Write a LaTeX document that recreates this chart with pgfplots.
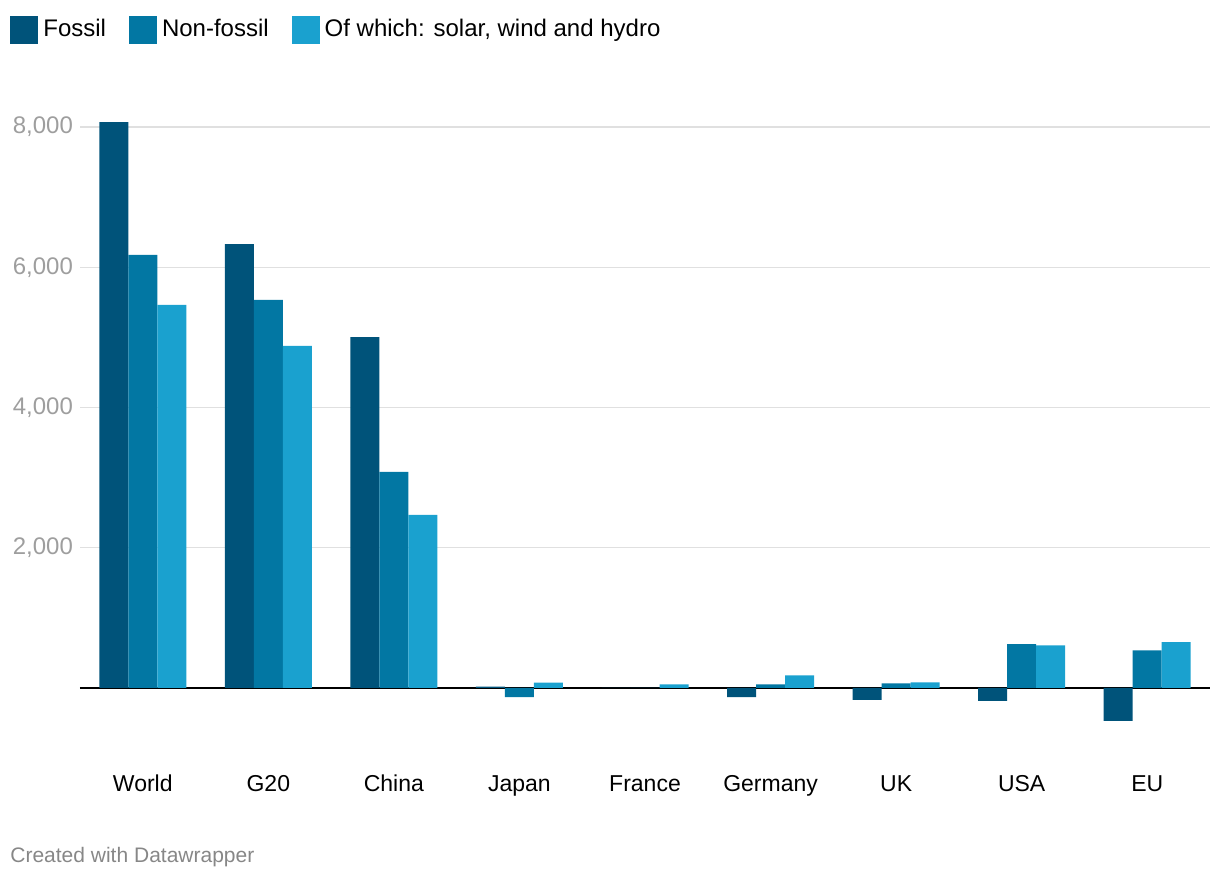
\documentclass[border=0pt]{standalone}
\usepackage{pgfplots}
\pgfplotsset{compat=1.18}
\usepackage{fontspec}
\setmainfont{Liberation Sans}
\definecolor{cFossil}{RGB}{0,83,122}
\definecolor{cNon}{RGB}{2,119,163}
\definecolor{cSolar}{RGB}{26,161,207}
\definecolor{cGrid}{RGB}{224,224,224}
\definecolor{cTick}{RGB}{158,158,158}
\definecolor{cFoot}{RGB}{135,135,135}
\begin{document}
\begin{tikzpicture}
\path[use as bounding box] (0,0) rectangle (610pt,441pt);
\begin{axis}[
  at={(40pt,69pt)}, anchor=south west,
  scale only axis, width=565pt, height=319pt,
  xmin=-0.5, xmax=8.5, ymin=-800, ymax=8300,
  ybar=0pt, bar width=14.5pt,
  axis line style={draw=none},
  xtick={0,...,8},
  xticklabels={World,G20,China,Japan,France,Germany,UK,USA,EU},
  xtick style={draw=none},
  xticklabel style={font=\fontsize{11.5}{13}\selectfont, text=black, anchor=base, yshift=-19.5pt},
  ytick={2000,4000,6000,8000},
  ytick style={draw=none},
  yticklabel style={font=\fontsize{12}{14}\selectfont, text=cTick},
  /pgf/number format/assume math mode=true,
  /pgf/number format/1000 sep={,},
  ymajorgrids, grid style={cGrid, line width=0.6pt},
  extra y ticks={0}, extra y tick labels={},
  extra y tick style={grid style={black, line width=1pt}},
  clip=false,
  legend style={at={(-0.062,1.144)}, anchor=north west, draw=none, fill=none,
    legend columns=3, font=\fontsize{12}{14}\selectfont,
    /tikz/every even column/.append style={column sep=9pt},
    inner sep=0pt, nodes={inner sep=2.5pt}},
  legend image code/.code={\fill[#1] (0pt,-7pt) rectangle (14pt,7pt);},
]
\addplot[fill=cFossil, draw=none] coordinates {(0,8070) (1,6330) (2,5005) (3,20) (4,0) (5,-130) (6,-170) (7,-185) (8,-470)};
\addplot[fill=cNon, draw=none] coordinates {(0,6175) (1,5533) (2,3080) (3,-130) (4,0) (5,50) (6,65) (7,623) (8,537)};
\addplot[fill=cSolar, draw=none] coordinates {(0,5462) (1,4877) (2,2467) (3,75) (4,50) (5,180) (6,80) (7,608) (8,652)};
\legend{Fossil,Non-fossil,{Of which: solar, wind and hydro}}
\end{axis}
\node[anchor=west, text=cFoot, font=\fontsize{10.5}{12}\selectfont, inner sep=0pt] at (5pt,12.5pt) {Created with Datawrapper};
\end{tikzpicture}
\end{document}
